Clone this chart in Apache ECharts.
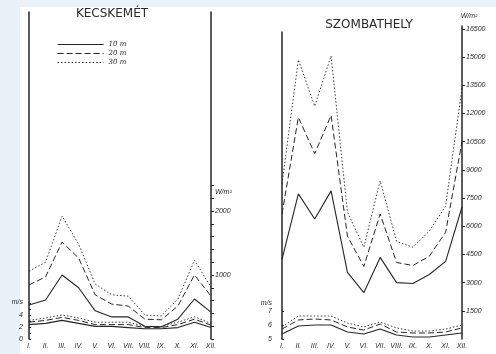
<!DOCTYPE html>
<html>
<head>
<meta charset="utf-8">
<script src="https://cdn.jsdelivr.net/npm/echarts@6/dist/echarts.min.js"></script>
<style>
  html, body { margin: 0; padding: 0; background: #fff; }
  #chart { width: 496px; height: 354px; }
</style>
</head>
<body>
<div id="chart"></div>
<script>
const months = ['I.', 'II.', 'III.', 'IV.', 'V.', 'VI.', 'VII.', 'VIII.', 'IX.', 'X.', 'XI.', 'XII.']

// Kecskemét: b = power density W/m², a = wind speed m/s
const kecB10 = [530, 610, 1000, 800, 440, 345, 345, 200, 190, 310, 625, 420]
const kecB20 = [845, 970, 1515, 1265, 690, 545, 515, 310, 300, 515, 1000, 670]
const kecB30 = [1060, 1200, 1920, 1480, 860, 690, 670, 375, 360, 625, 1230, 810]
const kecA10 = [2.4, 2.6, 3.1, 2.6, 2.1, 2.1, 1.9, 1.7, 1.7, 1.9, 2.8, 1.9]
const kecA20 = [2.8, 3.1, 3.6, 3.1, 2.4, 2.4, 2.4, 1.9, 1.9, 2.4, 3.3, 2.3]
const kecA30 = [3.1, 3.5, 4.0, 3.5, 2.8, 2.8, 2.8, 2.1, 2.1, 2.8, 3.7, 2.6]

// Szombathely
const szoB10 = [4235, 7720, 6380, 7880, 3540, 2465, 4340, 3000, 2950, 3430, 4130, 7020]
const szoB20 = [6650, 11790, 9860, 11900, 5470, 3860, 6650, 4070, 3910, 4400, 5680, 10500]
const szoB30 = [8250, 14850, 12380, 15060, 6750, 4880, 8415, 5200, 4880, 5735, 7075, 13350]
const szoA10 = [5.36, 5.93, 6.0, 6.0, 5.5, 5.36, 5.71, 5.29, 5.14, 5.14, 5.29, 5.43]
const szoA20 = [5.71, 6.36, 6.43, 6.36, 5.86, 5.64, 6.07, 5.5, 5.43, 5.43, 5.5, 5.79]
const szoA30 = [5.86, 6.64, 6.64, 6.64, 6.14, 5.86, 6.21, 5.79, 5.57, 5.57, 5.71, 6.0]

// axis tick / label values
const kecMsTicks = [0, 1, 2, 3, 4, 5, 6]
const kecMsLabels = [0, 2, 4, 6.2]
const kecWTicks = [0, 200, 400, 600, 800, 1000, 1200, 1400, 1600, 1800, 2000, 2200, 2400]
const kecWLabels = [1000, 2000, 2300]
const szoWValues = [1500, 3000, 4500, 6000, 7500, 9000, 10500, 12000, 13500, 15000, 16500]
const szoMsTicks = [5, 6, 7]
const szoMsLabels = [5, 6, 7, 7.6]

const ink = '#262626'
const heights = ['10 m', '20 m', '30 m']
const lineTypes = ['solid', [6, 3], [1.5, 2]]
const lineWidths = [1.1, 1, 0.9]

const labelFont = { fontStyle: 'italic', fontFamily: 'Liberation Sans', fontSize: 7, color: ink }

function tagged(arr, idx, text, position, offset) {
  return arr.map((v, i) => i === idx
    ? { value: v, label: { show: true, formatter: text, position: position, offset: offset, fontStyle: 'italic', fontFamily: 'DejaVu Serif', fontSize: 9, color: ink } }
    : v)
}

function line(i, data, xIdx, yIdx) {
  return {
    name: heights[i],
    type: 'line',
    xAxisIndex: xIdx,
    yAxisIndex: yIdx,
    symbol: 'none',
    silent: true,
    lineStyle: { color: ink, width: lineWidths[i], type: lineTypes[i] },
    itemStyle: { color: ink },
    data: data
  }
}

const chart = echarts.init(document.getElementById('chart'), null, { renderer: 'canvas' })

const xBase = {
  type: 'category',
  data: months,
  boundaryGap: false,
  axisLine: { show: false },
  axisTick: { show: false },
  splitLine: { show: false },
  axisLabel: Object.assign({ margin: 4, interval: 0 }, labelFont)
}

const option = {
  backgroundColor: '#e8f2f8',
  animation: false,
  graphic: [
    { type: 'rect', shape: { x: 20, y: 7, width: 476, height: 347 }, style: { fill: '#ffffff' }, z: -10 },
    { type: 'text', x: 112, y: 8, style: { text: 'KECSKEMÉT', fontFamily: 'DejaVu Sans', fontSize: 12, fill: '#2a2a2a', textAlign: 'center' } },
    { type: 'text', x: 369, y: 19, style: { text: 'SZOMBATHELY', fontFamily: 'DejaVu Sans', fontSize: 12, fill: '#2a2a2a', textAlign: 'center' } }
  ],
  legend: {
    data: heights,
    orient: 'vertical',
    left: 52,
    top: 36,
    itemWidth: 46,
    itemHeight: 6,
    itemGap: 2,
    selectedMode: false,
    itemStyle: { opacity: 0 },
    lineStyle: { width: 1.2 },
    textStyle: { fontStyle: 'italic', fontFamily: 'DejaVu Serif', fontSize: 7, color: ink, lineHeight: 7 }
  },
  grid: [
    { left: 29, right: 285, top: 12, bottom: 15 },
    { left: 282, right: 34, top: 26, bottom: 15 },
    { left: 282, right: 34, top: 32, bottom: 15 }
  ],
  xAxis: [
    Object.assign({}, xBase, { gridIndex: 0 }),
    Object.assign({}, xBase, { gridIndex: 1 }),
    Object.assign({}, xBase, { gridIndex: 2, axisLabel: { show: false } })
  ],
  yAxis: [
    {
      gridIndex: 0, type: 'value', position: 'left', min: 0, max: 54.5,
      axisLine: { show: true, lineStyle: { color: ink, width: 1.5 } },
      axisTick: { show: true, inside: true, length: 2, customValues: kecMsTicks, lineStyle: { color: ink } },
      axisLabel: Object.assign({ customValues: kecMsLabels, margin: 6, formatter: v => v > 5 ? 'm/s' : String(v) }, labelFont),
      splitLine: { show: false }
    },
    {
      gridIndex: 0, type: 'value', position: 'right', min: 0, max: 5109,
      axisLine: { show: true, lineStyle: { color: ink, width: 1.5 } },
      axisTick: { show: true, length: 3, customValues: kecWTicks, lineStyle: { color: ink } },
      axisLabel: Object.assign({ customValues: kecWLabels, margin: 4, formatter: v => v === 2300 ? 'W/m²' : String(v) }, labelFont),
      splitLine: { show: false }
    },
    {
      gridIndex: 1, type: 'value', position: 'right', min: 0, max: 16650,
      name: 'W/m²', nameLocation: 'end', nameGap: 6,
      nameTextStyle: Object.assign({ padding: [0, 0, 0, 14] }, labelFont),
      axisLine: { show: true, lineStyle: { color: ink, width: 1.5 } },
      axisTick: { show: true, length: 3, customValues: szoWValues, lineStyle: { color: ink } },
      axisLabel: Object.assign({ customValues: szoWValues, margin: 4, formatter: v => String(v) }, labelFont),
      splitLine: { show: false }
    },
    {
      gridIndex: 2, type: 'value', position: 'left', min: 5, max: 26.93,
      axisLine: { show: true, lineStyle: { color: ink, width: 1.5 } },
      axisTick: { show: true, inside: true, length: 2, customValues: szoMsTicks, lineStyle: { color: ink } },
      axisLabel: Object.assign({ customValues: szoMsLabels, margin: 10, formatter: v => v > 7.1 ? 'm/s' : String(v) }, labelFont),
      splitLine: { show: false }
    }
  ],
  series: [
    line(0, kecB10, 0, 1),
    line(1, kecB20, 0, 1),
    line(2, tagged(kecB30, 2, 'b', 'right', [-1, -4]), 0, 1),
    line(0, kecA10, 0, 0),
    line(1, kecA20, 0, 0),
    line(2, tagged(kecA30, 2, 'a', 'top', [1, 0]), 0, 0),
    line(0, szoB10, 1, 2),
    line(1, szoB20, 1, 2),
    line(2, tagged(szoB30, 3, 'b', 'right', [0, -6]), 1, 2),
    line(0, szoA10, 2, 3),
    line(1, szoA20, 2, 3),
    line(2, tagged(szoA30, 2, 'a', 'top', [0, 0]), 2, 3)
  ]
}

chart.setOption(option)
</script>
</body>
</html>
